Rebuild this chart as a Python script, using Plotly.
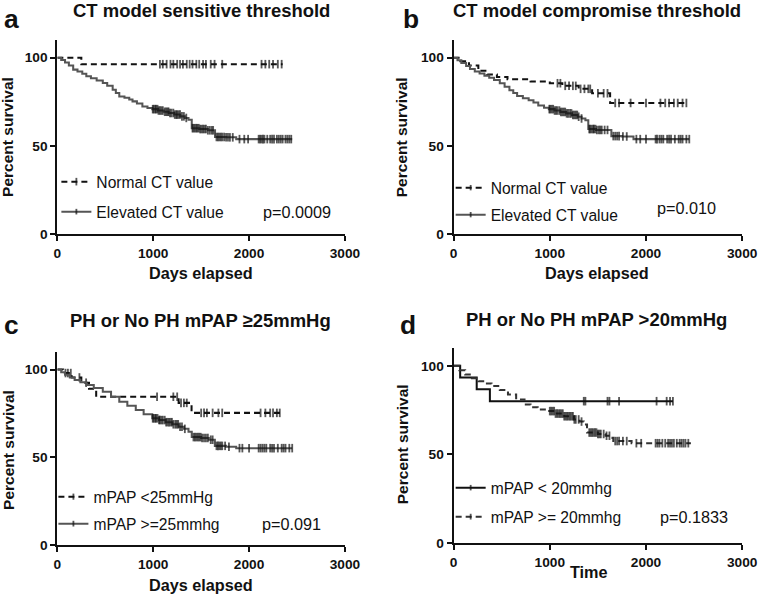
import plotly.graph_objects as go
import bisect

W, H = 762, 595          # reference picture size (all positions below are in these pixels)
FIG_W, FIG_H = 773, 603  # rendered page size (the snapshot is scaled back to W x H)
K = FIG_W / W            # font / pixel scale

# ---------------- data ----------------
# Panel a: CT model sensitive threshold
a_norm_t = [0, 250, 2350]
a_norm_s = [100, 96.3, 96.3]
a_norm_cens = [1070, 1100, 1140, 1180, 1210, 1250, 1280, 1310, 1350, 1380, 1410, 1450, 1480,
               1520, 1550, 1600, 1640, 1720, 2130, 2170, 2210, 2250, 2300, 2340]
a_elev_t = [0, 40, 80, 120, 165, 210, 260, 302, 350, 410, 474, 520, 577, 610, 646, 700, 750, 784,
            830, 887, 940, 990, 1050, 1110, 1162, 1220, 1282, 1330, 1368, 1402, 1480, 1570, 1645,
            1760, 1866, 2450]
a_elev_s = [100, 98.6, 97.2, 95.5, 93.2, 92.1, 90.8, 89.4, 88.3, 87, 85.6, 84, 81.8, 80, 78, 77.2,
            76.2, 75.2, 74, 72.3, 71.5, 70.8, 70, 69.3, 68.6, 67.7, 66.7, 65.8, 64.8, 60, 59.5, 58.8,
            55, 54.8, 53.8, 53.8]
a_elev_cens = [995, 1005, 1020, 1030, 1045, 1055, 1070, 1085, 1100, 1120, 1135, 1150, 1160, 1175,
               1190, 1210, 1225, 1240, 1250, 1265, 1280, 1300, 1320, 1345, 1410, 1420, 1435, 1450,
               1460, 1475, 1490, 1505, 1520, 1535, 1550, 1570, 1590, 1610, 1625, 1660, 1675, 1690,
               1705, 1720, 1740, 1760, 1780, 1800, 1830, 1900, 1950, 1990, 2100, 2115, 2130, 2145,
               2160, 2190, 2220, 2240, 2260, 2290, 2310, 2330, 2350, 2380, 2400, 2420, 2440]
a_p = "p=0.0009"

# Panel b: CT model compromise threshold
b_norm_t = [0, 70, 160, 257, 350, 450, 560, 800, 1000, 1130, 1300, 1440, 1627, 2420]
b_norm_s = [100, 98, 95.5, 92.5, 90.5, 89, 87.8, 86.5, 85.5, 84, 82.3, 79.8, 74.3, 74.3]
b_norm_cens = [1080, 1110, 1160, 1200, 1240, 1270, 1320, 1360, 1400, 1420, 1500, 1560, 1600,
               1680, 1720, 1840, 2000, 2150, 2200, 2240, 2290, 2330, 2380, 2420]
b_elev_t = [0, 40, 80, 130, 170, 220, 270, 320, 370, 420, 480, 530, 580, 620, 660, 720, 780, 830,
            880, 940, 990, 1050, 1110, 1170, 1230, 1290, 1330, 1370, 1400, 1480, 1640, 1750, 1870,
            2450]
b_elev_s = [100, 98.5, 97, 95.3, 93.5, 92.2, 91, 89.8, 88.6, 87.3, 85.5, 83.5, 81.5, 80, 78.2, 77,
            75.8, 74.5, 72.8, 71.6, 70.8, 70, 69.2, 68.4, 67.5, 66.5, 65.5, 64.5, 59.5, 59, 55.5,
            55.3, 53.8, 53.8]
b_elev_cens = [995, 1005, 1020, 1035, 1050, 1065, 1080, 1100, 1115, 1130, 1145, 1160, 1175, 1190,
               1210, 1225, 1240, 1255, 1270, 1285, 1300, 1330, 1410, 1420, 1435, 1450, 1460, 1475,
               1490, 1510, 1525, 1540, 1570, 1600, 1660, 1680, 1700, 1720, 1760, 1800, 1900, 1940,
               2000, 2100, 2115, 2140, 2160, 2180, 2220, 2240, 2260, 2300, 2340, 2360, 2380, 2420,
               2450]
b_p = "p=0.010"

# Panel c: PH or No PH mPAP >=25mmHg
c_norm_t = [0, 60, 150, 250, 330, 405, 1265, 1400, 2330]
c_norm_s = [100, 98, 95.5, 92.5, 89, 84.5, 81, 75.3, 75.3]
c_norm_cens = [85, 110, 140, 230, 300, 1040, 1210, 1250, 1290, 1320, 1350, 1500, 1530, 1560,
               1620, 1680, 1720, 2120, 2170, 2220, 2250, 2290, 2320]
c_elev_t = [0, 40, 80, 130, 180, 240, 302, 380, 474, 560, 646, 730, 818, 900, 990, 1060, 1130,
            1200, 1265, 1320, 1368, 1402, 1500, 1580, 1643, 1760, 1866, 2450]
c_elev_s = [100, 98.5, 97, 95.5, 94, 92.8, 91.2, 89.5, 87.4, 84.5, 81.7, 79.3, 77, 74.5, 72.2, 71.2,
            70, 68.8, 67.4, 66.2, 64.6, 61.5, 61, 60, 56.5, 56, 55.2, 55.2]
c_elev_cens = [995, 1005, 1020, 1030, 1045, 1060, 1070, 1085, 1100, 1120, 1135, 1150, 1165, 1180,
               1195, 1210, 1230, 1245, 1260, 1280, 1300, 1330, 1420, 1435, 1450, 1465, 1480, 1495,
               1510, 1530, 1550, 1570, 1600, 1620, 1660, 1675, 1690, 1705, 1720, 1750, 1790, 1900,
               1930, 2000, 2100, 2120, 2140, 2160, 2180, 2220, 2240, 2260, 2300, 2340, 2360, 2380,
               2420, 2450]
c_p = "p=0.091"

# Panel d: PH or No PH mPAP >20mmHg
d_low_t = [0, 68, 240, 377, 2280]
d_low_s = [100, 93.3, 86.7, 80, 80]
d_low_cens = [1353, 1370, 1600, 1620, 1720, 2110, 2215, 2250, 2280]
d_high_t = [0, 60, 120, 190, 257, 330, 394, 480, 565, 650, 737, 800, 874, 976, 1060, 1150, 1251,
            1310, 1353, 1387, 1500, 1580, 1627, 1660, 1850, 2467]
d_high_s = [100, 97.5, 95, 93, 91.3, 90, 88.5, 86.3, 83.8, 81, 78.1, 76.6, 75.3, 74.4, 73, 71.5,
            69.7, 68.5, 66.9, 62.3, 61.5, 60.5, 59.3, 57.5, 56.3, 56.3]
d_high_cens = [1000, 1015, 1030, 1045, 1060, 1075, 1090, 1105, 1120, 1135, 1150, 1165, 1180, 1195,
               1210, 1225, 1240, 1255, 1270, 1300, 1330, 1410, 1425, 1440, 1455, 1470, 1485, 1500,
               1515, 1530, 1560, 1590, 1620, 1680, 1700, 1720, 1760, 1800, 1900, 1950, 2100, 2120,
               2140, 2170, 2200, 2230, 2250, 2270, 2290, 2320, 2350, 2370, 2390, 2410, 2440]
d_p = "p=0.1833"

titles = ["CT model sensitive threshold", "CT model compromise threshold",
          "PH or No PH mPAP \u226525mmHg", "PH or No PH mPAP >20mmHg"]
letters = ["a", "b", "c", "d"]
xtitles = ["Days elapsed", "Days elapsed", "Days elapsed", "Time"]
ytitle = "Percent survival"
x_ticks = [0, 1000, 2000, 3000]
y_ticks = [0, 50, 100]

# ---------------- layout helpers ----------------
def px(x):
    return x / W


def py(y):
    return 1 - y / H


FONT = "Liberation Sans, Arial, sans-serif"
BLACK = "#111111"
GRAY = "#555555"
DASH = "%dpx,%dpx" % (round(6 * K), round(4 * K))
CENS_SIZE = 6 * K


def merged(ts, ss, cens):
    """Insert censor times into the step curve (same level) and give them tick markers."""
    pts = [(t, s, 0) for t, s in zip(ts, ss)]
    for c in cens:
        i = bisect.bisect_right(ts, c) - 1
        pts.append((c, ss[max(i, 0)], CENS_SIZE))
    pts.sort(key=lambda p: (p[0], p[2]))
    return [p[0] for p in pts], [p[1] for p in pts], [p[2] for p in pts]


fig = go.Figure()

panels = [
    dict(ax="", curves=[(a_norm_t, a_norm_s, a_norm_cens, "Normal CT value", BLACK, DASH),
                        (a_elev_t, a_elev_s, a_elev_cens, "Elevated CT value", GRAY, "solid")],
         xd=(54, 345), yd=(234, 40), p=a_p),
    dict(ax="2", curves=[(b_norm_t, b_norm_s, b_norm_cens, "Normal CT value", BLACK, DASH),
                         (b_elev_t, b_elev_s, b_elev_cens, "Elevated CT value", GRAY, "solid")],
         xd=(455, 747), yd=(234, 40), p=b_p),
    dict(ax="3", curves=[(c_norm_t, c_norm_s, c_norm_cens, "mPAP <25mmHg", BLACK, DASH),
                         (c_elev_t, c_elev_s, c_elev_cens, "mPAP >=25mmhg", GRAY, "solid")],
         xd=(54, 345), yd=(545, 352), p=c_p),
    dict(ax="4", curves=[(d_low_t, d_low_s, d_low_cens, "mPAP < 20mmhg", BLACK, "solid"),
                         (d_high_t, d_high_s, d_high_cens, "mPAP >= 20mmhg", "#333333", DASH)],
         xd=(455, 747), yd=(543, 348), p=d_p),
]

legend_pos = [(96, 182), (96, 212), (495, 188), (495, 215), (93, 497), (93, 524), (495, 488), (495, 517)]
p_pos = [(296, 212), (691, 208), (291, 524), (698, 517)]
title_pos = [(200, 10), (600, 10), (199, 320), (600, 319)]
letter_pos = [(8, 19), (412, 19), (8, 325), (409, 325)]
ytitle_pos = [(4, 137), (403, 137), (4, 450), (403, 444)]
xtitle_pos = [(199, 273), (600, 273), (199, 585), (592, 572)]

annotations = []
li = 0
for k, pn in enumerate(panels):
    ax = pn["ax"]
    xa, ya = "x" + ax, "y" + ax
    for (ts, ss, cens, name, col, dash) in pn["curves"]:
        lname = "legend" if li == 0 else "legend%d" % (li + 1)
        mx, my, ms = merged(ts, ss, cens)
        fig.add_trace(go.Scatter(x=mx, y=my, mode="lines+markers",
                                 line=dict(color=col, width=2 * K, dash=dash, shape="hv"),
                                 marker=dict(symbol="line-ns", size=ms, color=BLACK,
                                             line=dict(color=BLACK, width=1.8 * K)),
                                 name=name, xaxis=xa, yaxis=ya, legend=lname, hoverinfo="skip"))
        lx, ly = legend_pos[li]
        fig.layout[lname] = dict(x=px(lx - 43), y=py(ly), xanchor="left", yanchor="middle",
                                 bgcolor="rgba(0,0,0,0)", borderwidth=0,
                                 font=dict(family=FONT, size=15.4 * K, color=BLACK))
        li += 1
    axis_common = dict(showline=True, linewidth=2 * K, linecolor=BLACK, showgrid=False, zeroline=False,
                       ticks="outside", ticklen=5 * K, tickwidth=2 * K, tickcolor=BLACK,
                       tickfont=dict(family=FONT, size=13.5 * K, color=BLACK, weight="bold"))
    fig.layout["xaxis" + ax] = dict(domain=[px(pn["xd"][0]), px(pn["xd"][1])], range=[0, 3000],
                                    tickvals=x_ticks, anchor=ya, **axis_common)
    fig.layout["yaxis" + ax] = dict(domain=[py(pn["yd"][0]), py(pn["yd"][1])], range=[0, 110],
                                    tickvals=y_ticks, anchor=xa, **axis_common)
    bold = dict(family=FONT, color=BLACK, weight="bold")
    annotations += [
        dict(text=titles[k], x=px(title_pos[k][0]), y=py(title_pos[k][1]), xref="paper", yref="paper",
             showarrow=False, xanchor="center", yanchor="middle", font=dict(size=18.2 * K, **bold)),
        dict(text=letters[k], x=px(letter_pos[k][0]), y=py(letter_pos[k][1]), xref="paper", yref="paper",
             showarrow=False, xanchor="center", yanchor="middle", font=dict(size=26 * K, **bold)),
        dict(text=ytitle, x=px(ytitle_pos[k][0]), y=py(ytitle_pos[k][1]), xref="paper", yref="paper",
             showarrow=False, xanchor="center", yanchor="middle", textangle=-90,
             font=dict(size=15.3 * K, **bold)),
        dict(text=xtitles[k], x=px(xtitle_pos[k][0]), y=py(xtitle_pos[k][1]), xref="paper", yref="paper",
             showarrow=False, xanchor="center", yanchor="middle", font=dict(size=16 * K, **bold)),
        dict(text=pn["p"], x=px(p_pos[k][0]), y=py(p_pos[k][1]), xref="paper", yref="paper",
             showarrow=False, xanchor="center", yanchor="middle",
             font=dict(family=FONT, size=16 * K, color=BLACK)),
    ]

fig.update_layout(width=FIG_W, height=FIG_H, margin=dict(l=0, r=0, t=0, b=0),
                  plot_bgcolor="white", paper_bgcolor="white", annotations=annotations,
                  showlegend=True)

fig.write_html("out.html", config={"displayModeBar": False},
               post_script="document.body.style.margin='0';")
